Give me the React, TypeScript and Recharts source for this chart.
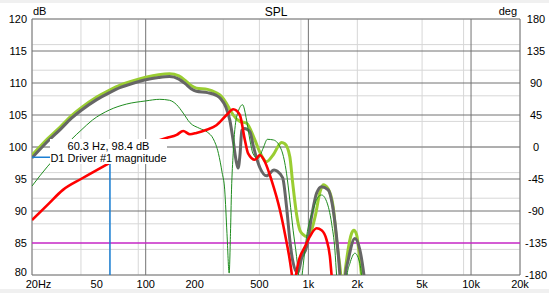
import React from 'react';
import { LineChart, Line, XAxis, YAxis, CartesianGrid, ReferenceLine } from 'recharts';

const W = 549;
const H = 293;
const FONT = '"Liberation Sans", Arial, Helvetica, sans-serif';

// Axis ticks
const FREQ_TICKS = [20, 50, 100, 200, 500, 1000, 2000, 5000, 10000, 20000];
const FREQ_TICK_LABELS = ['20Hz', '50', '100', '200', '500', '1k', '2k', '5k', '10k', '20k'];
const DB_TICKS = [80, 85, 90, 95, 100, 105, 110, 115, 120];
const DEG_TICKS = [-180, -135, -90, -45, 0, 45, 90, 135, 180];
const MINOR_FREQS = [30, 40, 50, 60, 70, 80, 90, 200, 300, 400, 500, 600, 700, 800, 900, 2000, 3000, 4000, 5000, 6000, 7000, 8000, 9000];
const MAJOR_FREQS = [20, 100, 1000, 10000, 20000];
const MINOR_DB = [80, 81, 82, 83, 84, 85, 86, 87, 88, 89, 90, 91, 92, 93, 94, 95, 96, 97, 98, 99, 100, 101, 102, 103, 104, 105, 106, 107, 108, 109, 110, 111, 112, 113, 114, 115, 116, 117, 118, 119, 120];

// Light green thick curve
const LG_FREQ = [20, 25, 30, 35, 40, 50, 60, 70, 80, 100, 120, 140, 160, 175, 190, 205, 240, 270, 290, 314, 330, 345, 379, 417, 469, 503, 553, 607, 684, 717, 769, 800, 846, 887, 930, 975, 1020, 1100, 1180, 1233, 1320, 1420, 1490, 1545, 1580, 1625, 1676, 1718, 1844, 1905, 1979, 2074, 2120, 2200, 2400];
const LG_DB = [98.7, 101.3, 103.2, 104.9, 106.1, 107.8, 108.9, 109.7, 110.2, 110.9, 111.3, 111.45, 111.1, 110.4, 109.6, 109.2, 109.0, 108.5, 108.0, 106.8, 105.8, 105.0, 104.0, 103.7, 101.1, 99.2, 97.7, 98.75, 100.7, 100.5, 98.5, 94.5, 89.5, 87.0, 86.3, 86.0, 86.3, 89.1, 93.0, 94.1, 93.5, 90.7, 85.5, 82.3, 80, 72, 80, 82.3, 86.5, 87.0, 86.3, 82.3, 80, 75, 68];

// Dark gray thick curve
const G_FREQ = [20, 25, 30, 35, 40, 50, 60, 70, 80, 100, 120, 140, 160, 175, 190, 205, 240, 270, 290, 310, 329, 345, 360, 370, 380, 390, 405, 437, 458, 503, 553, 615, 645, 695, 734, 769, 800, 860, 908, 975, 1046, 1124, 1206, 1324, 1421, 1504, 1562, 1620, 1690, 1757, 1932, 2074, 2195, 2300, 2500];
const G_DB = [98.3, 100.9, 102.8, 104.5, 105.7, 107.4, 108.5, 109.3, 109.8, 110.5, 110.85, 111.0, 110.6, 109.9, 109.1, 108.7, 108.5, 108.1, 107.5, 106.3, 104.2, 101.0, 97.8, 96.7, 98.8, 102.6, 102.9, 102.4, 100.2, 96.8, 95.5, 96.4, 96.2, 95.2, 90.7, 85.5, 82.3, 80.3, 82.6, 84.4, 89.1, 92.8, 93.8, 93.3, 90.2, 85.0, 80, 73, 80, 82.3, 85.7, 83.9, 80, 75, 68];

// Dark green thin curve
const DG_FREQ = [20, 25, 30, 35, 40, 47, 60, 76, 100, 122, 140, 155, 170, 187, 215, 240, 260, 280, 295, 306, 316, 326, 332, 337, 345, 353, 370, 394, 417, 437, 458, 490, 527, 560, 610, 684, 734, 769, 806, 846, 870, 890, 915, 975, 1070, 1150, 1206, 1294, 1389, 1456, 1491, 1550, 1640, 1730, 1800, 1932, 2074, 2120, 2200];
const DG_DB = [93.9, 97.0, 99.2, 101.2, 102.6, 104.2, 105.8, 106.7, 107.2, 107.45, 107.3, 106.6, 105.3, 103.8, 102.9, 102.3, 101.3, 99.0, 96.0, 93.3, 86.5, 80.3, 86.5, 93.3, 99.0, 102.7, 105.5, 106.6, 104.2, 101.1, 98.9, 98.2, 99.8, 101.2, 101.1, 99.5, 95.9, 91.7, 87.0, 82.9, 80, 77.5, 80, 86.0, 90.2, 92.2, 92.5, 91.5, 88.1, 83.9, 80, 75, 72, 80, 81.8, 83.4, 81.8, 80, 75];

// Red thick curve
const R_FREQ = [20, 25, 31, 40, 50, 60, 80, 100, 120, 134, 155, 170, 187, 205, 237, 272, 314, 345, 379, 407, 426, 469, 503, 540, 594, 668, 717, 769, 792, 815, 840, 865, 952, 1021, 1124, 1206, 1294, 1356, 1389, 1450, 1600];
const R_DB = [88.6, 91.0, 93.3, 95.0, 96.4, 97.5, 99.2, 100.3, 101.0, 101.4, 101.9, 102.5, 102.0, 102.2, 102.7, 103.4, 105.0, 105.9, 105.0, 101.1, 99.0, 98.0, 98.75, 97.7, 94.8, 90.2, 86.5, 82.3, 80, 77, 80, 81.8, 84.4, 86.0, 87.3, 87.0, 85.5, 82.9, 80, 75, 68];

// Target line
const TARGET_FREQ = [20, 20000];
const TARGET_DB = [85, 85];

// Cursor
const CURSOR_FREQ = 60.3;
const CURSOR_DB = 98.4;
const CURSOR_SERIES = 'D1 Driver #1 magnitude';

const zip = (fs: number[], vs: number[]) => fs.map((f, i) => ({ f, v: vs[i] }));

const lgData = zip(LG_FREQ, LG_DB);
const gData = zip(G_FREQ, G_DB);
const dgData = zip(DG_FREQ, DG_DB);
const rData = zip(R_FREQ, R_DB);
const targetData = zip(TARGET_FREQ, TARGET_DB);

const txt = { fontSize: 11, fontFamily: FONT, fill: '#000' };

const LeftTick = (p: any) => {
  const v = p.payload.value;
  const dy = v === DB_TICKS[0] ? -3.5 : 0;
  return (
    <text x={27} y={p.y + dy + 4} textAnchor="end" {...txt}>
      {v}
    </text>
  );
};

const RightTick = (p: any) => (
  <text x={536} y={p.y + 4} textAnchor="middle" {...txt}>
    {p.payload.value}
  </text>
);

const XTick = (p: any) => {
  const i = FREQ_TICKS.indexOf(p.payload.value);
  const dx = i === 0 ? 6.5 : 0;
  return (
    <text x={p.x + dx} y={287.5} textAnchor="middle" {...txt}>
      {FREQ_TICK_LABELS[i]}
    </text>
  );
};

export default function App() {
  return (
    <div style={{ position: 'fixed', left: 0, top: 0, width: W, height: H, background: '#f0f0f0', overflow: 'hidden' }}>
      <div style={{ position: 'absolute', left: 0, top: 3, width: W, height: 286, background: '#ffffff' }} />
      <div style={{ position: 'absolute', left: 0, top: 0 }}>
        <LineChart width={W} height={H} margin={{ top: 19, right: 0, bottom: 0, left: 0 }}>
          <XAxis xAxisId="gminor" type="number" dataKey="f" scale="log" domain={[20, 20000]} allowDataOverflow ticks={MINOR_FREQS} hide />
          <XAxis xAxisId="gmajor" type="number" dataKey="f" scale="log" domain={[20, 20000]} allowDataOverflow ticks={MAJOR_FREQS} hide />
          <YAxis yAxisId="gminor" type="number" domain={[80, 120]} allowDataOverflow ticks={MINOR_DB} hide />
          <CartesianGrid xAxisId="gminor" yAxisId="gminor" stroke="#d7d7d7" />
          <CartesianGrid xAxisId="gmajor" yAxisId={0} stroke="#737373" />
          <XAxis
            xAxisId={0}
            type="number"
            dataKey="f"
            scale="log"
            domain={[20, 20000]}
            allowDataOverflow
            ticks={FREQ_TICKS}
            interval={0}
            tick={XTick}
            tickLine={false}
            axisLine={false}
            height={18}
          />
          <YAxis
            yAxisId={0}
            type="number"
            domain={[80, 120]}
            allowDataOverflow
            ticks={DB_TICKS}
            interval={0}
            tick={LeftTick}
            tickLine={false}
            axisLine={false}
            width={32}
          />
          <YAxis
            yAxisId="deg"
            orientation="right"
            type="number"
            domain={[-180, 180]}
            allowDataOverflow
            ticks={DEG_TICKS}
            interval={0}
            tick={RightTick}
            tickLine={false}
            axisLine={false}
            width={29}
          />
          <Line data={targetData} dataKey="v" type="linear" stroke="#ee00ee" strokeWidth={1} dot={false} isAnimationActive={false} />
          <Line data={lgData} dataKey="v" type="monotone" stroke="#9acd32" strokeWidth={3} dot={false} isAnimationActive={false} />
          <Line data={gData} dataKey="v" type="monotone" stroke="#666666" strokeWidth={3} dot={false} isAnimationActive={false} />
          <Line data={dgData} dataKey="v" type="monotone" stroke="#1f8c1f" strokeWidth={1} dot={false} isAnimationActive={false} />
          <Line data={rData} dataKey="v" type="monotone" stroke="#ff0000" strokeWidth={2.6} dot={false} isAnimationActive={false} />
          <ReferenceLine
            segment={[{ x: 20, y: CURSOR_DB }, { x: CURSOR_FREQ, y: CURSOR_DB }]}
            stroke="#1a7fd4"
            strokeWidth={1.5}
          />
          <ReferenceLine
            segment={[{ x: CURSOR_FREQ, y: 80 }, { x: CURSOR_FREQ, y: CURSOR_DB }]}
            stroke="#1a7fd4"
            strokeWidth={1.5}
          />
        </LineChart>
      </div>
      <svg width={W} height={H} style={{ position: 'absolute', left: 0, top: 0, pointerEvents: 'none' }}>
        <text x={33} y={15} textAnchor="start" {...txt}>dB</text>
        <text x={276} y={16} textAnchor="middle" {...txt} fontSize={12}>SPL</text>
        <text x={517} y={15} textAnchor="end" {...txt}>deg</text>
        <rect x={50} y={139} width={117} height={25} fill="#ffffff" />
        <text x={108.5} y={149.8} textAnchor="middle" {...txt}>{`${CURSOR_FREQ} Hz, ${CURSOR_DB} dB`}</text>
        <text x={108.5} y={162} textAnchor="middle" {...txt}>{CURSOR_SERIES}</text>
      </svg>
    </div>
  );
}
